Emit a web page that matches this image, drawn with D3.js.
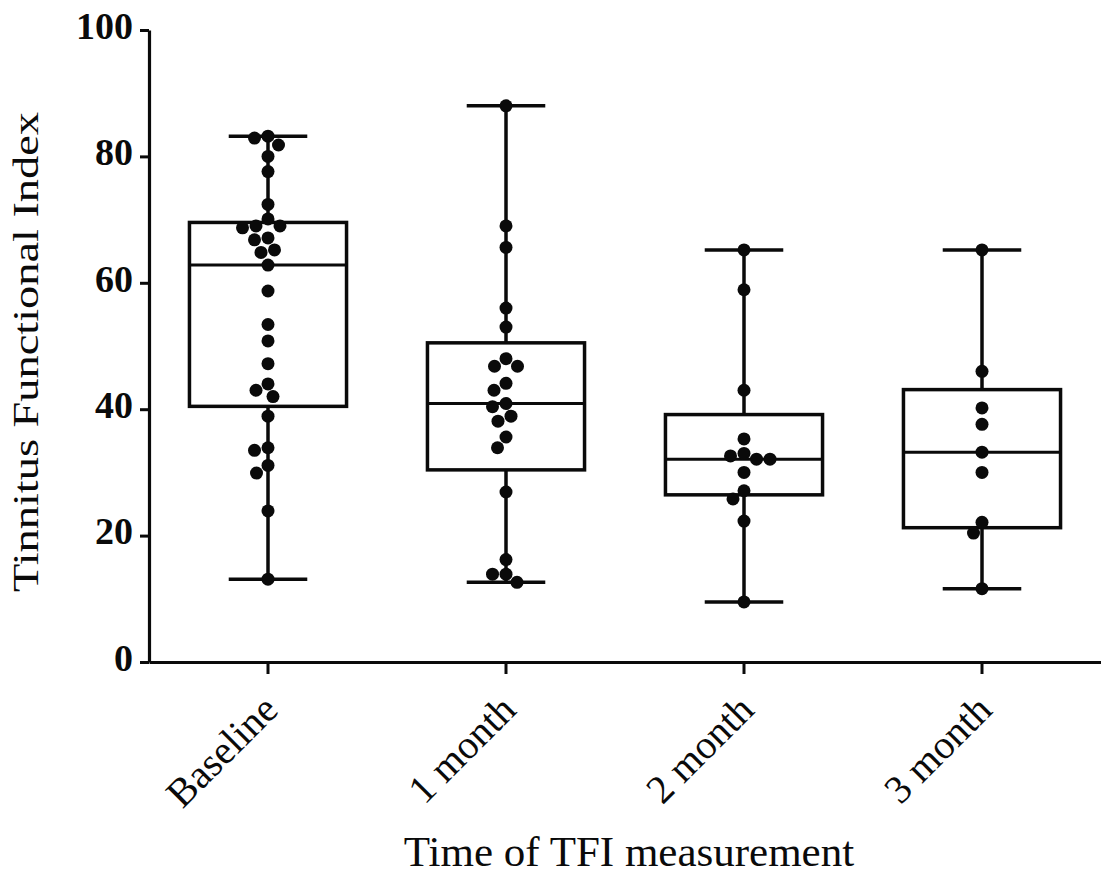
<!DOCTYPE html>
<html>
<head>
<meta charset="utf-8">
<script src="https://cdn.jsdelivr.net/npm/d3@7"></script>
<style>
  html, body { margin: 0; padding: 0; background: #fff; }
  svg { display: block; }
</style>
</head>
<body>
<svg id="chart" width="1101" height="880"></svg>
<script>
// ---- DATA ----
const categories = ["Baseline", "1 month", "2 month", "3 month"];
const baselineValues = [83.2, 82.9, 81.8, 80.0, 77.6, 72.4, 70.1, 69.0, 68.7, 69.0, 66.8, 67.1, 65.2, 64.8, 62.8,
                        58.7, 53.4, 50.8, 47.2, 44.0, 43.0, 42.0, 38.9, 33.9, 33.5, 31.1, 29.9, 23.9, 13.1];
const month1Values = [88.0, 69.0, 65.6, 56.0, 53.0, 48.0, 46.8, 46.8, 44.1, 43.0, 40.9, 40.4, 38.9, 38.1, 35.6,
                      33.9, 26.9, 16.2, 13.9, 13.9, 12.6];
const month2Values = [65.2, 58.9, 43.0, 35.3, 33.0, 32.6, 32.1, 32.1, 30.0, 27.1, 25.8, 22.3, 9.5];
const month3Values = [65.2, 46.0, 40.2, 37.6, 33.2, 30.0, 22.1, 20.4, 11.6];
const yTicks = [0, 20, 40, 60, 80, 100];
const yTitle = "Tinnitus Functional Index";
const xTitle = "Time of TFI measurement";

const seriesValues = [baselineValues, month1Values, month2Values, month3Values];

// ---- LAYOUT ----
const svg = d3.select("#chart");
const plotLeft = 149, plotRight = 1101, plotTop = 30, plotBottom = 662;
const ink = "#0a0a0a";
const serif = "'Liberation Serif', 'Times New Roman', serif";

const y = d3.scaleLinear().domain([0, 100]).range([plotBottom, plotTop]);
const x = d3.scaleBand().domain(categories).range([plotLeft, plotRight]).paddingInner(0).paddingOuter(0);

const boxW = x.bandwidth() * 0.66;
const capW = boxW * 0.5;
const r = 6.5;

// GraphPad-style quartiles: position (n+1)p in sorted data
function quant(sorted, p) {
  const n = sorted.length;
  const pos = (n + 1) * p;
  const lo = Math.floor(pos), hi = Math.ceil(pos);
  const a = sorted[Math.max(0, Math.min(n - 1, lo - 1))];
  const b = sorted[Math.max(0, Math.min(n - 1, hi - 1))];
  return a + (b - a) * (pos - lo);
}

const stats = seriesValues.map((vals, i) => {
  const s = vals.slice().sort(d3.ascending);
  return {
    cat: categories[i],
    min: s[0], max: s[s.length - 1],
    q1: quant(s, 0.25), med: quant(s, 0.5), q3: quant(s, 0.75)
  };
});

// ---- AXES ----
const yAxis = svg.append("g")
  .attr("transform", `translate(${plotLeft},0)`)
  .call(d3.axisLeft(y).tickValues(yTicks).tickSize(9).tickSizeOuter(0).tickPadding(7));
yAxis.select(".domain").attr("stroke", ink).attr("stroke-width", 3.2);
yAxis.selectAll(".tick line").attr("stroke", ink).attr("stroke-width", 3);
yAxis.selectAll(".tick text")
  .attr("font-family", serif).attr("font-weight", "bold").attr("font-size", 38)
  .attr("fill", ink).attr("dy", "0.22em");

const xAxis = svg.append("g")
  .attr("transform", `translate(0,${plotBottom})`)
  .call(d3.axisBottom(x).tickSize(12).tickSizeOuter(0));
xAxis.select(".domain").attr("stroke", ink).attr("stroke-width", 3.2);
xAxis.selectAll(".tick line").attr("stroke", ink).attr("stroke-width", 3);
xAxis.selectAll(".tick text")
  .attr("font-family", serif).attr("font-size", 40).attr("fill", ink)
  .attr("text-anchor", "end")
  .attr("x", 0).attr("y", 0).attr("dy", 0)
  .attr("transform", "translate(12,50) rotate(-45)");

// ---- AXIS TITLES ----
svg.append("text")
  .attr("transform", `translate(38,${(112 + 592) / 2}) rotate(-90)`)
  .attr("text-anchor", "middle")
  .attr("font-family", serif).attr("font-size", 35).attr("fill", ink)
  .attr("textLength", 480).attr("lengthAdjust", "spacingAndGlyphs")
  .text(yTitle);

svg.append("text")
  .attr("x", 629).attr("y", 866)
  .attr("text-anchor", "middle")
  .attr("font-family", serif).attr("font-size", 43).attr("fill", ink)
  .text(xTitle);

// ---- BOXES ----
const g = svg.append("g");
const groups = g.selectAll("g.box").data(stats).join("g").attr("class", "box")
  .attr("transform", d => `translate(${x(d.cat) + x.bandwidth() / 2},0)`);

// whiskers
groups.append("line").attr("x1", 0).attr("x2", 0)
  .attr("y1", d => y(d.max)).attr("y2", d => y(d.q3))
  .attr("stroke", ink).attr("stroke-width", 3.5);
groups.append("line").attr("x1", 0).attr("x2", 0)
  .attr("y1", d => y(d.q1)).attr("y2", d => y(d.min))
  .attr("stroke", ink).attr("stroke-width", 3.5);
// caps
groups.append("line").attr("x1", -capW / 2).attr("x2", capW / 2)
  .attr("y1", d => y(d.max)).attr("y2", d => y(d.max))
  .attr("stroke", ink).attr("stroke-width", 3.5);
groups.append("line").attr("x1", -capW / 2).attr("x2", capW / 2)
  .attr("y1", d => y(d.min)).attr("y2", d => y(d.min))
  .attr("stroke", ink).attr("stroke-width", 3.5);
// box
groups.append("rect")
  .attr("x", -boxW / 2).attr("width", boxW)
  .attr("y", d => y(d.q3)).attr("height", d => y(d.q1) - y(d.q3))
  .attr("fill", "none").attr("stroke", ink).attr("stroke-width", 3.5);
// median
groups.append("line").attr("x1", -boxW / 2).attr("x2", boxW / 2)
  .attr("y1", d => y(d.med)).attr("y2", d => y(d.med))
  .attr("stroke", ink).attr("stroke-width", 3);

// ---- DOTS (beeswarm layout computed from the values) ----
function swarm(vals) {
  const placed = [];
  const minD = 2 * r + 0.5;
  const order = vals.map((v, i) => ({ v, i })).sort((a, b) => b.v - a.v);
  order.forEach(p => {
    const py = y(p.v);
    let best = 0;
    for (let k = 0; k < 400; k++) {
      const off = (k % 2 === 0 ? 1 : -1) * Math.ceil(k / 2) * 0.5;
      const ok = placed.every(q => Math.hypot(q.x - off, q.y - py) >= minD);
      if (ok) { best = off; break; }
    }
    placed.push({ x: best, y: py, v: p.v });
  });
  return placed;
}

seriesValues.forEach((vals, i) => {
  const cx = x(categories[i]) + x.bandwidth() / 2;
  const pts = swarm(vals);
  g.append("g").selectAll("circle").data(pts).join("circle")
    .attr("cx", d => cx + d.x).attr("cy", d => d.y).attr("r", r)
    .attr("fill", ink);
});
</script>
</body>
</html>
